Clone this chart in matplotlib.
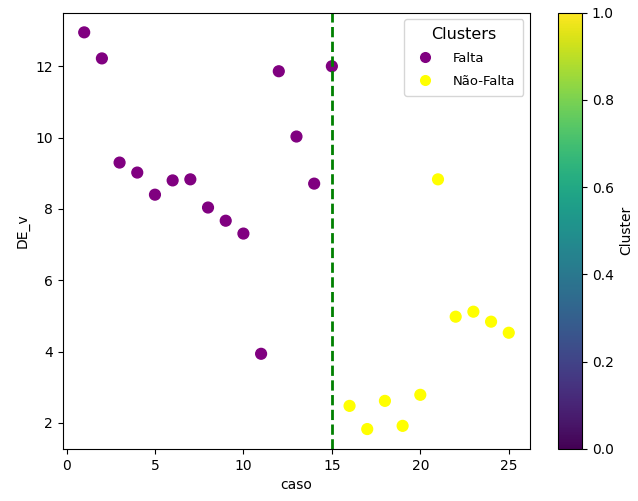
import numpy as np
import matplotlib
matplotlib.use('Agg')
import matplotlib.pyplot as plt
from matplotlib.lines import Line2D

# casos e valores de DE_v
caso = list(range(1, 26))
de_v = [12.95, 12.22, 9.30, 9.02, 8.40, 8.80, 8.83, 8.04, 7.67, 7.31,
        3.94, 11.86, 10.03, 8.71, 12.0,
        2.48, 1.83, 2.62, 1.92, 2.79, 8.83, 4.98, 5.12, 4.84, 4.53]
cluster = [0] * 15 + [1] * 10
cluster_colors = ['purple', 'yellow']
cluster_names = ['Falta', 'Não-Falta']
corte = 15

fig = plt.figure(figsize=(6.38, 5.01), dpi=100)
ax = fig.add_axes([0.0987, 0.104, 0.732, 0.871])
cax = fig.add_axes([0.8746, 0.104, 0.0376, 0.871])

cols = [cluster_colors[c] for c in cluster]
ax.scatter(caso, de_v, c=cols, s=60)
ax.axvline(corte, color='green', linestyle='--', linewidth=2)

sm = plt.cm.ScalarMappable(cmap='viridis', norm=plt.Normalize(0, 1))
cb = fig.colorbar(sm, cax=cax)
cb.set_label('Cluster')

handles = [Line2D([0], [0], marker='o', color='w', markerfacecolor=c,
                  markersize=9) for c in cluster_colors]
ax.legend(handles, cluster_names, title='Clusters', loc='upper right',
          fontsize=9.5, title_fontsize=11.5, labelspacing=0.75,
          handletextpad=1.1, borderpad=0.6)

ax.set_xlabel('caso')
ax.set_ylabel('DE_v')
fig.savefig('out.png')
